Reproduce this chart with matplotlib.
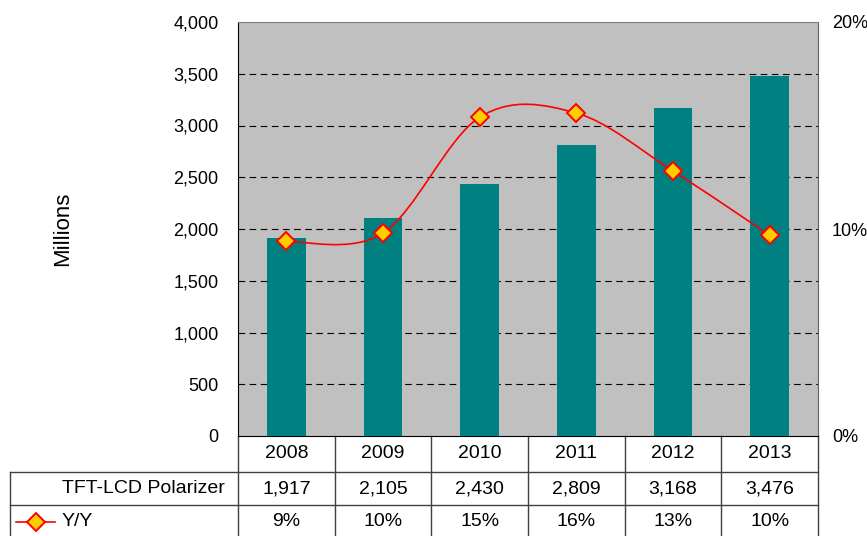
import numpy as np
import matplotlib.pyplot as plt
from matplotlib.path import Path
from matplotlib.patches import PathPatch, Rectangle
from matplotlib.lines import Line2D
import matplotlib.transforms as mtransforms

plt.rcParams['font.family'] = ['Liberation Sans', 'DejaVu Sans']

# data
years = ['2008', '2009', '2010', '2011', '2012', '2013']
polarizer = [1917, 2105, 2430, 2809, 3168, 3476]
yoy = [9.4, 9.8, 15.4, 15.6, 12.8, 9.7]
yoy_labels = ['9%', '10%', '15%', '16%', '13%', '10%']
left_ticks = [0, 500, 1000, 1500, 2000, 2500, 3000, 3500, 4000]
right_ticks = [0, 10, 20]

TEAL = '#008080'
BG = '#C0C0C0'
FS = 13      # axis labels
TFS = 14     # table text

fig = plt.figure(figsize=(8.67, 5.36), dpi=100)
ax = fig.add_axes([238 / 867, 100 / 536, 580 / 867, 414 / 536])
ax.set_facecolor(BG)

x = np.arange(len(years))
ax.bar(x, polarizer, width=0.4, color=TEAL, zorder=3)
ax.set_xlim(-0.5, len(years) - 0.5)
ax.set_ylim(0, 4000)
ax.set_yticks(left_ticks)
ax.set_yticklabels([f'{v:,}' for v in left_ticks], fontsize=FS)
ax.tick_params(axis='y', length=0, pad=14)
ax.set_xticks([])
for v in left_ticks[1:-1]:
    ax.axhline(v, color='black', lw=0.8, ls=(0, (6, 4)), zorder=1)
ax.spines['top'].set_color('#808080')
ax.spines['right'].set_color('#606060')
ax.spines['left'].set_color('black')
ax.spines['bottom'].set_color('black')
ax.set_ylabel('Millions', fontsize=16, labelpad=72)

# secondary axis for Y/Y
ax2 = ax.twinx()
ax2.set_ylim(0, 20)
ax2.set_yticks(right_ticks)
ax2.set_yticklabels([f'{v}%' for v in right_ticks], fontsize=FS)
ax2.tick_params(axis='y', length=0, pad=10)
for s in ax2.spines.values():
    s.set_visible(False)

# smoothed line (bezier through data points)
pts = np.column_stack([x, yoy]).astype(float)
ext = np.vstack([pts[0], pts, pts[-1]])
verts = [tuple(pts[0])]
codes = [Path.MOVETO]
for i in range(len(pts) - 1):
    p0, p1, p2, p3 = ext[i], ext[i + 1], ext[i + 2], ext[i + 3]
    c1 = p1 + (p2 - p0) / 6
    c2 = p2 - (p3 - p1) / 6
    verts += [tuple(c1), tuple(c2), tuple(p2)]
    codes += [Path.CURVE4] * 3
ax2.add_patch(PathPatch(Path(verts, codes), facecolor='none', edgecolor='red',
                        lw=1.2, zorder=4))
ax2.plot(x, yoy, ls='none', marker='D', ms=9, mfc='#FFCC00', mec='red',
         mew=1.4, zorder=5)

# data table below the plot
trans = mtransforms.blended_transform_factory(ax.transData, ax.transAxes)
H = 414.0
row_y = [0, -36 / H, -69 / H, -102 / H]
left_x = (10 - 238) / 580
lc = '#404040'
for b in np.arange(len(years) + 1) - 0.5:
    ax.add_line(Line2D([b, b], [row_y[0], row_y[3]], transform=trans,
                       color=lc, lw=1, clip_on=False))
for yy in row_y[1:3]:
    ax.add_line(Line2D([left_x, 1], [yy, yy], transform=ax.transAxes,
                       color=lc, lw=1, clip_on=False))
ax.add_line(Line2D([left_x, left_x], [row_y[1], row_y[3]], transform=ax.transAxes,
                   color=lc, lw=1, clip_on=False))

for i in range(len(years)):
    ax.text(x[i], (row_y[0] + row_y[1]) / 2, years[i], transform=trans,
            ha='center', va='center', fontsize=TFS)
    ax.text(x[i], (row_y[1] + row_y[2]) / 2, f'{polarizer[i]:,}', transform=trans,
            ha='center', va='center', fontsize=TFS)
    ax.text(x[i], (row_y[2] + row_y[3]) / 2, yoy_labels[i], transform=trans,
            ha='center', va='center', fontsize=TFS)

# legend keys inside the table
kx0, kx1 = (16 - 238) / 580, (55 - 238) / 580
ax.add_patch(Rectangle((kx0, -116 / H), kx1 - kx0, 13 / H, transform=ax.transAxes,
                       facecolor=TEAL, edgecolor='none', clip_on=False))
ax.text((62 - 238) / 580, (row_y[1] + row_y[2]) / 2, 'TFT-LCD Polarizer',
        transform=ax.transAxes, ha='left', va='center', fontsize=TFS)
ym = (row_y[2] + row_y[3]) / 2
ax.add_line(Line2D([kx0, kx1], [ym, ym], transform=ax.transAxes, color='red',
                   lw=1.2, clip_on=False))
ax.add_line(Line2D([(kx0 + kx1) / 2], [ym], transform=ax.transAxes, ls='none',
                   marker='D', ms=9, mfc='#FFCC00', mec='red', mew=1.4,
                   clip_on=False))
ax.text((62 - 238) / 580, ym, 'Y/Y', transform=ax.transAxes, ha='left',
        va='center', fontsize=TFS)

fig.savefig('out.png', dpi=100)
